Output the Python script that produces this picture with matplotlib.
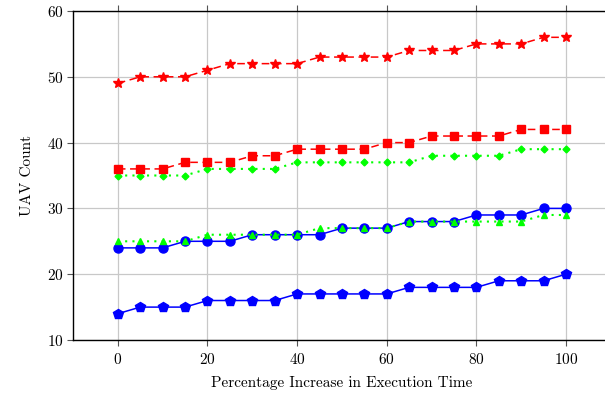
import matplotlib
matplotlib.use('Agg')

import matplotlib.pyplot as plt
import numpy as np

plt.rcParams['font.family'] = 'serif'
plt.rcParams['font.serif'] = ['cmr10', 'DejaVu Serif']
plt.rcParams['axes.formatter.use_mathtext'] = True
plt.rcParams['mathtext.fontset'] = 'cm'

# percentage increase in execution time
pct = [0, 5, 10, 15, 20, 25, 30, 35, 40, 45, 50, 55, 60, 65, 70, 75, 80, 85, 90, 95, 100]

# UAV counts per configuration
red_star = [49, 50, 50, 50, 51, 52, 52, 52, 52, 53, 53, 53, 53, 54, 54, 54, 55, 55, 55, 56, 56]
red_square = [36, 36, 36, 37, 37, 37, 38, 38, 39, 39, 39, 39, 40, 40, 41, 41, 41, 41, 42, 42, 42]
green_diamond = [35, 35, 35, 35, 36, 36, 36, 36, 37, 37, 37, 37, 37, 37, 38, 38, 38, 38, 39, 39, 39]
blue_circle = [24, 24, 24, 25, 25, 25, 26, 26, 26, 26, 27, 27, 27, 28, 28, 28, 29, 29, 29, 30, 30]
green_triangle = [25, 25, 25, 25, 26, 26, 26, 26, 26, 27, 27, 27, 27, 28, 28, 28, 28, 28, 28, 29, 29]
blue_pentagon = [14, 15, 15, 15, 16, 16, 16, 16, 17, 17, 17, 17, 17, 18, 18, 18, 18, 19, 19, 19, 20]

fig = plt.figure(figsize=(6.05, 4.0), dpi=100)
ax = fig.add_axes([0.1207, 0.15, 0.889, 0.8225])

ax.plot(pct, red_star, color='red', linestyle=(0, (5, 3)), linewidth=1.1,
        marker='*', markersize=7, zorder=3)
ax.plot(pct, green_diamond, color='#00ff00', linestyle=(0, (1, 2.5)), linewidth=1.5,
        marker='D', markersize=3.5, zorder=3)
ax.plot(pct, red_square, color='red', linestyle=(0, (5, 3)), linewidth=1.1,
        marker='s', markersize=6, zorder=4)
ax.plot(pct, blue_pentagon, color='blue', linestyle='-', linewidth=1.1,
        marker='p', markersize=7, zorder=3)
ax.plot(pct, blue_circle, color='blue', linestyle='-', linewidth=1.1,
        marker='o', markersize=6.5, zorder=3)
ax.plot(pct, green_triangle, color='#00ff00', linestyle=(0, (1, 2.5)), linewidth=1.5,
        marker='^', markersize=4.5, zorder=4)

ax.set_xlim(-10, 110)
ax.set_ylim(10, 60)
ax.set_xticks([0, 20, 40, 60, 80, 100])
ax.set_yticks([10, 20, 30, 40, 50, 60])
ax.grid(True, color='#c8c8c8', linewidth=0.9)
ax.set_axisbelow(True)

ax.tick_params(axis='x', direction='out', top=True, bottom=True, length=4,
               color='#555555', labelsize=11, pad=5)
ax.tick_params(axis='y', direction='out', left=True, right=False, length=4,
               color='#555555', labelsize=11, pad=3)
for s in ax.spines.values():
    s.set_linewidth(1.0)

ax.set_xlabel('Percentage Increase in Execution Time', fontsize=11, labelpad=6)
ax.set_ylabel('UAV Count', fontsize=11, labelpad=9)

plt.savefig('out.png', dpi=100)
